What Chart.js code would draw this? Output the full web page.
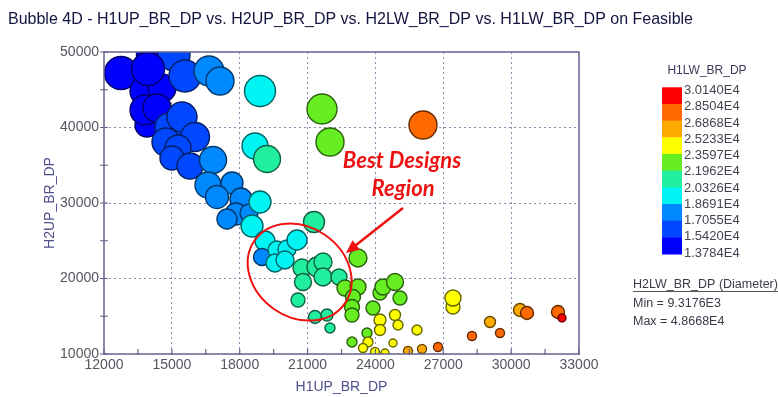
<!DOCTYPE html>
<html>
<head>
<meta charset="utf-8">
<title>Bubble 4D</title>
<script src="https://cdn.jsdelivr.net/npm/chart.js@4.4.1/dist/chart.umd.min.js"></script>
<style>
  html, body { margin: 0; padding: 0; background: #ffffff; }
  canvas { display: block; }
</style>
</head>
<body>
<canvas id="chart" width="778" height="397"></canvas>
<script>
// Feasible designs: H1UP_BR_DP (x), H2UP_BR_DP (y), H2LW_BR_DP (diameter), H1LW_BR_DP (colour)
const h1up = [14166, 15095, 12752, 13813, 14564, 13945, 15581, 16642, 17128, 18897,
  13901, 13813, 14343, 14874, 15448, 14741, 16023, 15272, 15006, 15802,
  16819, 18676, 19206, 21638, 21991, 26103, 16598, 17659, 16996, 18057,
  17836, 17438, 18410, 18897, 18543, 19118, 18985, 19648, 20090, 20533,
  19560, 20002, 21284, 20754, 21417, 21682, 20798, 21682, 22389, 20577,
  23229, 22655, 23229, 23008, 22964, 22964, 21328, 21859, 21991, 23892,
  24202, 24335, 24865, 25086, 24202, 24202, 24865, 24998, 25838, 22964,
  23627, 23671, 23451, 23981, 24423, 24777, 25440, 26059, 26766, 27429,
  27429, 28269, 29065, 29507, 30391, 30701, 32071, 32248];
const h2up = [49603, 49603, 47218, 44834, 45232, 47748, 46821, 47483, 46159, 44834,
  40331, 42318, 42583, 40066, 41391, 38079, 38742, 37285, 35960, 34901,
  35695, 37550, 35828, 42450, 38079, 40331, 32384, 32649, 30795, 30530,
  28543, 27881, 28675, 30132, 26954, 24967, 22848, 23775, 23907, 25099,
  22053, 22450, 27483, 21391, 21523, 22185, 19536, 20199, 20199, 17152,
  22715, 18742, 18874, 17550, 16225, 15166, 14901, 15166, 13444, 16093,
  18079, 18874, 19536, 17417, 14503, 13179, 15166, 13841, 13179, 11589,
  12781, 11589, 10795, 10265, 10132, 11457, 10397, 10662, 10927, 16225,
  17417, 12384, 14238, 12781, 15828, 15430, 15563, 14768];
const h2lw = [47155, 45642, 47155, 42615, 39588, 47155, 45642, 42615, 39588, 44128,
  33534, 42615, 39588, 39588, 42615, 39588, 41102, 36561, 33534, 36561,
  38075, 36561, 38075, 42615, 39588, 39588, 36561, 30507, 32020, 30507,
  30507, 27480, 24453, 30507, 30507, 27480, 22940, 24453, 24453, 27480,
  24453, 24453, 28994, 24453, 27480, 24453, 22940, 24453, 21426, 18399,
  24453, 21426, 21426, 19913, 19913, 18399, 16886, 15372, 12345, 18399,
  18399, 21426, 22940, 18399, 15372, 13859, 13859, 12345, 12345, 12345,
  12345, 12345, 10831, 10831, 9318, 9318, 10831, 10831, 10831, 18399,
  21426, 10831, 13859, 10831, 16886, 16886, 16886, 9318];
const h1lw = [14300, 15900, 13950, 14500, 14800, 14100, 16100, 17500, 17800, 19600,
  14700, 14900, 15200, 16000, 16300, 16100, 16600, 16400, 16200, 16500,
  17300, 19200, 21000, 22900, 23200, 27900, 17400, 17600, 17700, 18100,
  17900, 17300, 18300, 19300, 19900, 19700, 17900, 19400, 19800, 20100,
  19000, 19500, 21300, 20900, 21100, 20700, 21500, 21200, 21700, 20800,
  22600, 23000, 22400, 23300, 22800, 23100, 21400, 21600, 21800, 22500,
  22700, 22300, 23400, 22200, 24100, 24600, 24300, 23900, 24800, 22900,
  23500, 24000, 24200, 24700, 25000, 24500, 25800, 26300, 27400, 24200,
  24600, 27700, 26200, 27900, 26500, 27200, 28100, 30140];

// Axis ticks
const xTicks = [12000, 15000, 18000, 21000, 24000, 27000, 30000, 33000];
const yTicks = [10000, 20000, 30000, 40000, 50000];
const X_MINOR = 1500, Y_MINOR = 5000;

// Colour scale for H1LW_BR_DP
const colorLevels = [13784, 15420, 17055, 18691, 20326, 21962, 23597, 25233, 26868, 28504, 30140];
const colorLabels = ['1.3784E4', '1.5420E4', '1.7055E4', '1.8691E4', '2.0326E4', '2.1962E4',
  '2.3597E4', '2.5233E4', '2.6868E4', '2.8504E4', '3.0140E4'];
const bandColors = ['#0000ff', '#0048ff', '#0088ff', '#00f4f4', '#22eea0',
  '#66ee22', '#ffff00', '#ffaa00', '#ff6a00', '#ff0000'];

// Diameter scale for H2LW_BR_DP
const diamMin = 9317.6, diamMax = 48668;
const DIAM_PX_MIN = 8, DIAM_PX_MAX = 34;

const FONT = "'Liberation Sans', Arial, sans-serif";
const AXIS_COLOR = '#62628e';
const GRID_COLOR = '#8c8cb0';
const TICK_TEXT = '#55555f';
const TITLE_TEXT = '#50508c';

function bandIndex(v) {
  for (let i = 0; i < bandColors.length; i++) if (v < colorLevels[i + 1]) return i;
  return bandColors.length - 1;
}
function diameterPx(v) {
  return DIAM_PX_MIN + (v - diamMin) / (diamMax - diamMin) * (DIAM_PX_MAX - DIAM_PX_MIN);
}
function shade(hex, f) {
  const n = parseInt(hex.slice(1), 16);
  const r = Math.round(((n >> 16) & 255) * f), g = Math.round(((n >> 8) & 255) * f), b = Math.round((n & 255) * f);
  return `rgb(${r},${g},${b})`;
}

const points = h1up.map((x, i) => ({ x, y: h2up[i], r: diameterPx(h2lw[i]) / 2 }));
const fills = h1lw.map(v => bandColors[bandIndex(v)]);
const strokes = fills.map(c => shade(c, 0.4));

Chart.defaults.font.family = FONT;

// Frame around the plot plus minor/major tick marks
const framePlugin = {
  id: 'frame',
  afterDatasetsDraw(chart) {
    const { ctx, chartArea: a, scales: { x, y } } = chart;
    ctx.save();
    ctx.strokeStyle = AXIS_COLOR;
    ctx.lineWidth = 1.5;
    ctx.strokeRect(a.left, a.top, a.right - a.left, a.bottom - a.top);
    ctx.lineWidth = 1.2;
    ctx.beginPath();
    for (let v = x.min; v <= x.max; v += X_MINOR) {
      const px = x.getPixelForValue(v);
      ctx.moveTo(px, a.bottom + 1);
      ctx.lineTo(px, a.bottom - 5);
    }
    for (let v = y.min; v <= y.max; v += Y_MINOR) {
      const py = y.getPixelForValue(v);
      ctx.moveTo(a.left - 4, py);
      ctx.lineTo(a.left + 4, py);
    }
    ctx.stroke();
    ctx.restore();
  }
};

// "Best Designs Region" callout
const calloutPlugin = {
  id: 'callout',
  afterDatasetsDraw(chart) {
    const { ctx, scales: { x, y } } = chart;
    const red = '#ee1111';
    ctx.save();
    ctx.strokeStyle = red;
    ctx.fillStyle = red;
    ctx.lineWidth = 2;
    ctx.beginPath();
    ctx.ellipse(x.getPixelForValue(20650), y.getPixelForValue(20850), 55, 45, 35 * Math.PI / 180, 0, Math.PI * 2);
    ctx.stroke();

    const x0 = x.getPixelForValue(25219), y0 = y.getPixelForValue(29338);
    const x1 = x.getPixelForValue(22699), y1 = y.getPixelForValue(23377);
    const ang = Math.atan2(y1 - y0, x1 - x0);
    const head = 13, half = 6;
    ctx.lineWidth = 2.5;
    ctx.beginPath();
    ctx.moveTo(x0, y0);
    ctx.lineTo(x1 - Math.cos(ang) * head * 0.8, y1 - Math.sin(ang) * head * 0.8);
    ctx.stroke();
    ctx.beginPath();
    ctx.moveTo(x1, y1);
    ctx.lineTo(x1 - Math.cos(ang) * head - Math.sin(ang) * half, y1 - Math.sin(ang) * head + Math.cos(ang) * half);
    ctx.lineTo(x1 - Math.cos(ang) * head + Math.sin(ang) * half, y1 - Math.sin(ang) * head - Math.cos(ang) * half);
    ctx.closePath();
    ctx.fill();

    ctx.font = "italic bold 22px Lato, 'Open Sans', sans-serif";
    ctx.textAlign = 'center';
    ctx.textBaseline = 'middle';
    ctx.fillText('Best Designs', x.getPixelForValue(25175), y.getPixelForValue(35563));
    ctx.fillText('Region', x.getPixelForValue(25220), y.getPixelForValue(31854));
    ctx.restore();
  }
};

// Title, colour bar and diameter key
const sidePlugin = {
  id: 'side',
  afterDraw(chart) {
    const { ctx } = chart;
    ctx.save();
    ctx.fillStyle = '#141440';
    ctx.font = `16px ${FONT}`;
    ctx.textAlign = 'left';
    ctx.textBaseline = 'alphabetic';
    ctx.fillText('Bubble 4D - H1UP_BR_DP vs. H2UP_BR_DP vs. H2LW_BR_DP vs. H1LW_BR_DP on Feasible', 8, 24);

    // colour bar
    const barX = 662, barW = 20, barTop = 87.3, barH = 166.7;
    const n = bandColors.length, bandH = barH / n;
    for (let i = 0; i < n; i++) {
      ctx.fillStyle = bandColors[n - 1 - i];
      ctx.fillRect(barX, barTop + i * bandH, barW, bandH + 0.5);
    }
    ctx.fillStyle = '#3a3a5a';
    ctx.font = `12px ${FONT}`;
    ctx.textAlign = 'center';
    ctx.textBaseline = 'middle';
    ctx.fillText('H1LW_BR_DP', 707, 70.5);
    ctx.fillStyle = '#444450';
    ctx.font = `13px ${FONT}`;
    ctx.textAlign = 'left';
    for (let i = 0; i < colorLabels.length; i++) {
      ctx.fillText(colorLabels[colorLabels.length - 1 - i], 684, 90.5 + i * 16.25);
    }

    // diameter key
    ctx.fillStyle = '#3a3a4a';
    ctx.font = `12.5px ${FONT}`;
    ctx.fillText('H2LW_BR_DP (Diameter)', 633, 285);
    ctx.strokeStyle = '#55555f';
    ctx.lineWidth = 1;
    ctx.beginPath();
    ctx.moveTo(633, 291.5);
    ctx.lineTo(778, 291.5);
    ctx.stroke();
    ctx.fillText('Min = 9.3176E3', 633, 303.5);
    ctx.fillText('Max = 4.8668E4', 633, 321.5);
    ctx.restore();
  }
};

function gridColor(ends) {
  return ctx => (ctx.tick && ends.includes(ctx.tick.value)) ? 'rgba(0,0,0,0)' : GRID_COLOR;
}

new Chart(document.getElementById('chart'), {
  type: 'bubble',
  data: {
    datasets: [{
      label: 'Feasible',
      data: points,
      backgroundColor: fills,
      borderColor: strokes,
      borderWidth: 1.4,
      hoverBorderWidth: 1.4
    }]
  },
  options: {
    responsive: false,
    animation: false,
    events: [],
    layout: { padding: { left: 0, top: 52, right: 199, bottom: 0 } },
    plugins: { legend: { display: false }, title: { display: false }, tooltip: { enabled: false } },
    scales: {
      x: {
        type: 'linear',
        min: 12000, max: 33000,
        afterBuildTicks: s => { s.ticks = xTicks.map(v => ({ value: v })); },
        afterFit: s => { s.height = 43; },
        ticks: { color: TICK_TEXT, font: { size: 14 }, padding: 3, maxRotation: 0, autoSkip: false,
          callback: v => String(v) },
        grid: { color: gridColor([12000, 33000]), lineWidth: 1, drawTicks: false },
        border: { display: false, dash: [2, 3] },
        title: { display: true, text: 'H1UP_BR_DP', color: TITLE_TEXT, font: { size: 14 }, padding: { top: 0, bottom: 1.6 } }
      },
      y: {
        type: 'linear',
        min: 10000, max: 50000,
        afterBuildTicks: s => { s.ticks = yTicks.map(v => ({ value: v })); },
        afterFit: s => { s.width = 104; },
        ticks: { color: TICK_TEXT, font: { size: 14 }, padding: 5, autoSkip: false,
          callback: v => String(v) },
        grid: { color: gridColor([10000, 50000]), lineWidth: 1, drawTicks: false },
        border: { display: false, dash: [2, 3] },
        title: { display: true, text: 'H2UP_BR_DP', color: TITLE_TEXT, font: { size: 14 }, padding: { top: 41.6, bottom: 0 } }
      }
    }
  },
  plugins: [framePlugin, calloutPlugin, sidePlugin]
});
</script>
</body>
</html>
